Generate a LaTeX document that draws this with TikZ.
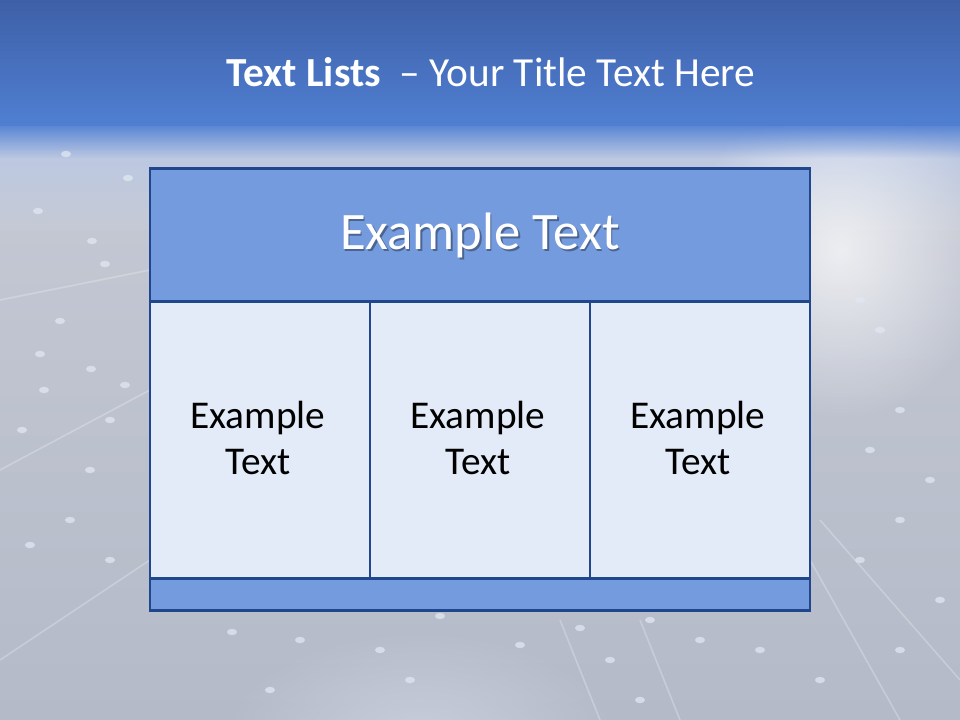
\documentclass[tikz,border=0pt]{standalone}
\usepackage{fontspec}
\setmainfont{Carlito}
\usetikzlibrary{fadings}
\definecolor{topblue}{RGB}{62,96,168}
\definecolor{bandblue}{RGB}{80,127,210}
\definecolor{haze}{RGB}{184,200,232}
\definecolor{bggrey}{RGB}{197,201,212}
\definecolor{bgbot}{RGB}{180,186,200}
\definecolor{hdrfill}{RGB}{116,155,222}
\definecolor{cellfill}{RGB}{227,235,248}
\definecolor{edge}{RGB}{32,70,140}
\definecolor{dotc}{RGB}{225,232,242}
\tikzfading[name=glowfade, inner color=transparent!30, outer color=transparent!100]
\tikzset{
  cellbox/.style={draw=edge,line width=2.2pt,fill=cellfill},
  hdrbox/.style={draw=edge,line width=2.2pt,fill=hdrfill},
  celltext/.style={font=\fontsize{29.5}{34}\selectfont,text=black,align=center},
  dotmark/.style={fill=dotc,opacity=0.75},
}
\begin{document}
\begin{tikzpicture}[x=0.75pt,y=-0.75pt]
\useasboundingbox (0,0) rectangle (960,720);
% background
\shade[top color=bggrey,bottom color=bgbot] (0,150) rectangle (960,720);
\shade[top color=haze,bottom color=bggrey] (0,120) rectangle (960,230);
% soft glow at right
\fill[white,path fading=glowfade] (840,250) ellipse (150 and 170);
\fill[cellfill,path fading=glowfade,opacity=0.6] (420,740) ellipse (200 and 110);
% top band
\fill[bandblue,path fading=south] (0,122) rectangle (960,158);
\shade[top color=topblue,bottom color=bandblue] (0,0) rectangle (960,126);
% faint light streaks
\foreach \a/\b/\c/\d in {0/300/150/270, 0/470/150/390, 0/660/150/560, 810/560/900/720, 820/520/960/680, 560/620/600/720, 640/620/680/720}{
  \draw[white,opacity=0.25,line width=1.2pt] (\a,\b) -- (\c,\d);
}
% dots
\foreach \x/\y in {66/154, 128/178, 38/211, 92/241, 105/264, 60/321, 40/354, 91/369, 125/385, 44/390, 22/430, 110/420, 90/470, 70/520, 30/545, 110/560, 860/300, 880/330, 900/410, 870/450, 930/480, 900/520, 860/560, 940/600, 900/650, 820/680, 232/632, 300/640, 380/650, 440/616, 520/645, 580/628, 610/660, 650/620, 700/640, 760/650, 270/690, 640/700, 410/680}{
  \fill[dotmark] (\x,\y) ellipse (5 and 3.2);
}
% title
\node[font=\fontsize{31}{36}\selectfont,text=white,anchor=base] (title) at (491,87) {\textbf{Text Lists}\ \ – Your Title Text Here};
% table
\node[hdrbox,minimum width=660*0.75pt,minimum height=133*0.75pt,anchor=north west,inner sep=0pt] (hdr) at (148.5,167.5) {};
\node[cellbox,minimum width=220*0.75pt,minimum height=277*0.75pt,anchor=north west,inner sep=0pt] (c1) at (148.5,300) {};
\node[cellbox,minimum width=220*0.75pt,minimum height=277*0.75pt,anchor=north west,inner sep=0pt] (c2) at (368.5,300) {};
\node[cellbox,minimum width=220*0.75pt,minimum height=277*0.75pt,anchor=north west,inner sep=0pt] (c3) at (588.5,300) {};
\node[hdrbox,minimum width=660*0.75pt,minimum height=32*0.75pt,anchor=north west,inner sep=0pt] (foot) at (148.5,577) {};
% header text with shadow
\node[font=\fontsize{39.5}{44}\selectfont,text=black,opacity=0.35] (hdrshadow) at ([xshift=1pt,yshift=-1.3pt]hdr.center) {Example Text};
\node[font=\fontsize{39.5}{44}\selectfont,text=white] (hdrtext) at (hdr.center) {Example Text};
% cell texts
\node[celltext] (t1) at (258,438) {Example\\Text};
\node[celltext] (t2) at (478,438) {Example\\Text};
\node[celltext] (t3) at (698,438) {Example\\Text};
\end{tikzpicture}
\end{document}
